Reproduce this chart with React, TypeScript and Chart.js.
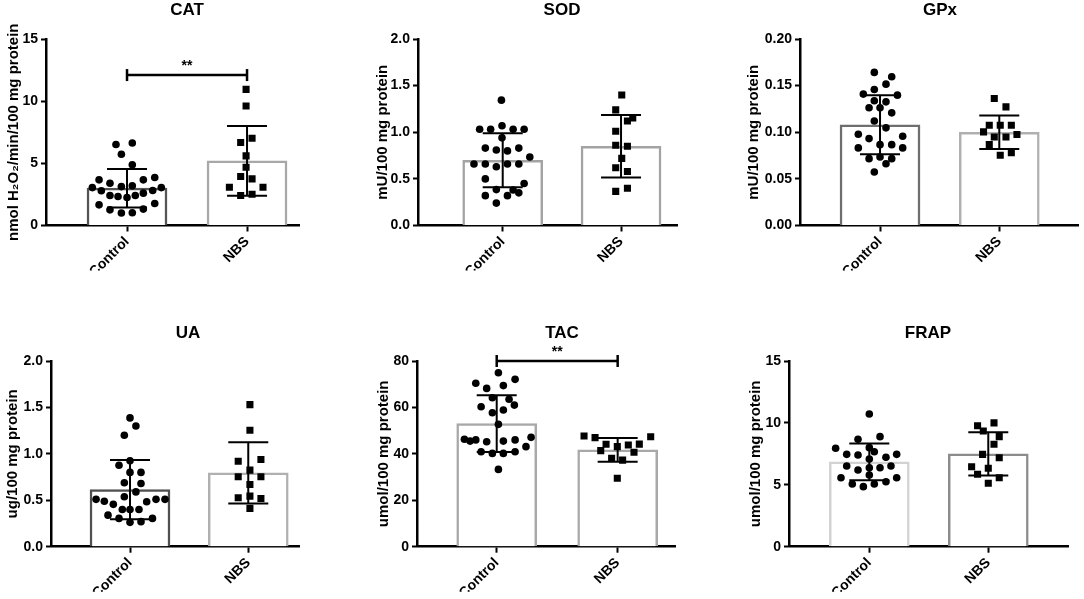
import { useEffect, useRef } from "react"
import { Chart, registerables, type ChartConfiguration, type Plugin } from "chart.js"

Chart.register(...registerables)

Chart.defaults.font.family = "'Liberation Sans', Arial, sans-serif"
Chart.defaults.font.weight = "bold"
Chart.defaults.color = "#000"

const groups = ["Control", "NBS"]

// points are [jitter in group widths, value]
const catControl: [number, number][] = [
  [-0.092, 6.51], [0.044, 6.64], [-0.047, 5.73], [0.044, 4.88],
  [-0.233, 3.67], [-0.142, 3.4], [-0.047, 3.13], [0.044, 3.19], [0.136, 3.67], [0.231, 3.86],
  [-0.289, 3.05], [-0.214, 2.79], [0.286, 3.05], [0.214, 2.81],
  [-0.142, 2.41], [-0.075, 2.33], [0, 2.25], [0.069, 2.41], [0.136, 2.6],
  [-0.233, 1.66], [0.231, 1.77],
  [-0.142, 1.26], [-0.047, 1.0], [0.044, 1.02], [0.136, 1.32],
]
const catNbs: [number, number][] = [
  [-0.008, 10.95], [-0.008, 9.61], [-0.053, 6.67], [0.042, 7.02], [-0.008, 5.6], [-0.008, 4.69],
  [-0.053, 3.94], [0.042, 3.75], [-0.147, 3.08], [0.133, 3.08], [-0.053, 2.41], [0.042, 2.52],
]
const catMean = [3.0, 5.2]
const catSd = [1.55, 2.8]
const catTicks = ["0", "5", "10", "15"]

const sodControl: [number, number][] = [
  [-0.011, 1.344],
  [-0.195, 1.032], [-0.102, 1.032], [-0.006, 1.07], [0.088, 1.032], [0.181, 1.032],
  [-0.006, 0.94],
  [-0.147, 0.83], [-0.054, 0.81], [0.04, 0.8], [0.136, 0.83],
  [0.229, 0.735],
  [-0.243, 0.66], [-0.147, 0.66], [-0.054, 0.63], [0.04, 0.66], [0.136, 0.66],
  [-0.147, 0.5], [0.181, 0.45], [-0.054, 0.385], [0.088, 0.38], [0.136, 0.35],
  [-0.147, 0.32], [0.04, 0.32], [-0.054, 0.24],
]
const sodNbs: [number, number][] = [
  [0.006, 1.4], [-0.045, 1.24], [0.099, 1.154], [0.054, 1.12], [-0.045, 1.01], [-0.045, 0.86],
  [0.054, 0.85], [0.006, 0.72], [-0.045, 0.62], [0.054, 0.58], [-0.045, 0.366], [0.054, 0.4],
]
const sodMean = [0.7, 0.85]
const sodSd = [0.29, 0.335]
const sodTicks = ["0.0", "0.5", "1.0", "1.5", "2.0"]

const gpxControl: [number, number][] = [
  [-0.048, 0.1642], [0.098, 0.1595], [0.05, 0.1516], [-0.048, 0.1459], [-0.14, 0.1409],
  [0.146, 0.1398], [-0.048, 0.1337], [0.05, 0.1326], [-0.092, 0.1262], [0, 0.1262],
  [0.098, 0.1208], [-0.048, 0.112], [0.05, 0.1047], [-0.182, 0.0978], [0.19, 0.0957],
  [-0.092, 0.0932], [0, 0.0867], [0.098, 0.0867], [-0.182, 0.0832], [0.19, 0.0832],
  [-0.092, 0.0717], [0, 0.0735], [0.098, 0.0717], [0.05, 0.0663], [-0.048, 0.0573],
]
const gpxNbs: [number, number][] = [
  [-0.042, 0.1362], [0.056, 0.1272], [-0.084, 0.1075], [0.008, 0.1075], [0.101, 0.1075],
  [-0.132, 0.1004], [0.148, 0.0975], [-0.042, 0.095], [0.056, 0.095], [-0.084, 0.0867],
  [0.008, 0.0753], [0.101, 0.0781],
]
const gpxMean = [0.108, 0.1]
const gpxSd = [0.0316, 0.018]
const gpxTicks = ["0.00", "0.05", "0.10", "0.15", "0.20"]

const uaControl: [number, number][] = [
  [0, 1.387], [0.05, 1.3], [-0.048, 1.2], [0, 0.925], [-0.093, 0.878], [0, 0.8], [0.093, 0.8],
  [-0.048, 0.688], [0.093, 0.68], [0.05, 0.59], [-0.048, 0.538], [-0.287, 0.51], [-0.217, 0.49],
  [0.141, 0.484], [0.22, 0.51], [0.296, 0.51], [-0.141, 0.456], [-0.065, 0.4], [0, 0.4],
  [0.076, 0.4], [-0.186, 0.34], [-0.093, 0.305], [0, 0.262], [0.093, 0.27], [0.19, 0.305],
]
const uaNbs: [number, number][] = [
  [0.014, 1.53], [0.014, 1.255], [-0.085, 0.92], [0.107, 0.94], [0.014, 0.825], [-0.085, 0.753],
  [0.107, 0.753], [0.014, 0.67], [-0.085, 0.527], [0.014, 0.545], [0.107, 0.52], [0.014, 0.413],
]
const uaMean = [0.615, 0.795]
const uaSd = [0.32, 0.33]
const uaTicks = ["0.0", "0.5", "1.0", "1.5", "2.0"]

const tacControl: [number, number][] = [
  [0.014, 74.96], [-0.173, 70.4], [0.152, 72.1], [-0.083, 68.2], [0.055, 69.4], [-0.036, 64.2],
  [0.102, 63.5], [-0.129, 60.3], [0.146, 61.0], [0.055, 58.9], [-0.036, 57.7], [0.014, 52.7],
  [-0.267, 46.3], [-0.22, 45.5], [-0.173, 46.0], [-0.083, 45.2], [0.055, 45.5], [0.152, 46.0],
  [0.284, 47.1], [0.242, 43.1], [-0.129, 40.9], [-0.036, 40.2], [0.055, 40.2], [0.152, 40.9],
  [0.014, 33.3],
]
const tacNbs: [number, number][] = [
  [-0.278, 47.7], [-0.187, 47.0], [0.273, 47.4], [-0.096, 44.1], [-0.003, 43.1], [0.088, 43.8],
  [0.179, 44.2], [-0.14, 41.4], [0.135, 40.7], [-0.05, 38.1], [0.041, 37.3], [-0.003, 29.5],
]
const tacMean = [53, 41.7]
const tacSd = [12.2, 5.1]
const tacTicks = ["0", "20", "40", "60", "80"]

const frapControl: [number, number][] = [
  [0, 10.72], [-0.095, 8.67], [0.09, 8.89], [0, 8.0], [-0.283, 7.95], [-0.19, 7.46],
  [-0.095, 7.41], [0.042, 7.67], [0.14, 7.22], [0.23, 7.46], [0, 7.08], [-0.19, 6.52],
  [-0.095, 6.2], [0, 6.38], [0.09, 6.38], [0.182, 6.52], [0, 5.79], [-0.238, 5.57],
  [0.23, 5.57], [-0.143, 5.06], [-0.05, 4.85], [0.042, 5.06], [0.14, 5.25],
]
const frapNbs: [number, number][] = [
  [-0.09, 9.77], [0.048, 10.0], [-0.042, 9.35], [0.092, 8.89], [0.048, 8.27], [-0.048, 7.46],
  [0.092, 7.19], [-0.14, 6.46], [0, 6.33], [-0.09, 5.85], [0.092, 5.57], [0, 5.12],
]
const frapMean = [6.85, 7.5]
const frapSd = [1.48, 1.75]
const frapTicks = ["0", "5", "10", "15"]

// significance bracket levels ("**")
const catSig = 12.1
const tacSig = 80

interface Panel {
  title: string
  yLabel: string
  ticks: string[]
  control: [number, number][]
  nbs: [number, number][]
  mean: number[]
  sd: number[]
  sig?: number
  borders: string[]
  left: number
  top: number
  width: number
  height: number
  axisX: number
  chartRight: number
  chartTop: number
  chartBottom: number
  xMin: number
  xMax: number
  yTitleX: number
  titleX: number
  titleY: number
}

const panels: Panel[] = [
  {
    title: "CAT", yLabel: "nmol H₂O₂/min/100 mg protein", ticks: catTicks,
    control: catControl, nbs: catNbs, mean: catMean, sd: catSd, sig: catSig,
    borders: ["#555555", "#a8a8a8"],
    left: 0, top: 0, width: 360, height: 300, axisX: 46, chartRight: 299, chartTop: 39, chartBottom: 225.5,
    xMin: 0.325, xMax: 2.433, yTitleX: 13.5, titleX: 187, titleY: 10,
  },
  {
    title: "SOD", yLabel: "mU/100 mg protein", ticks: sodTicks,
    control: sodControl, nbs: sodNbs, mean: sodMean, sd: sodSd,
    borders: ["#a3a3a3", "#a3a3a3"],
    left: 360, top: 0, width: 365, height: 300, axisX: 418, chartRight: 677, chartTop: 39, chartBottom: 225.5,
    xMin: 0.284, xMax: 2.473, yTitleX: 383, titleX: 562, titleY: 10,
  },
  {
    title: "GPx", yLabel: "mU/100 mg protein", ticks: gpxTicks,
    control: gpxControl, nbs: gpxNbs, mean: gpxMean, sd: gpxSd,
    borders: ["#6e6e6e", "#b0b0b0"],
    left: 725, top: 0, width: 359, height: 300, axisX: 800, chartRight: 1078, chartTop: 39, chartBottom: 225.5,
    xMin: 0.329, xMax: 2.66, yTitleX: 754, titleX: 940, titleY: 10,
  },
  {
    title: "UA", yLabel: "ug/100 mg protein", ticks: uaTicks,
    control: uaControl, nbs: uaNbs, mean: uaMean, sd: uaSd,
    borders: ["#505050", "#b0b0b0"],
    left: 0, top: 300, width: 360, height: 299, axisX: 51, chartRight: 299, chartTop: 361, chartBottom: 546.7,
    xMin: 0.332, xMax: 2.429, yTitleX: 13, titleX: 188, titleY: 333,
  },
  {
    title: "TAC", yLabel: "umol/100 mg protein", ticks: tacTicks,
    control: tacControl, nbs: tacNbs, mean: tacMean, sd: tacSd, sig: tacSig,
    borders: ["#a8a8a8", "#a8a8a8"],
    left: 360, top: 300, width: 365, height: 299, axisX: 417, chartRight: 675, chartTop: 361, chartBottom: 546.7,
    xMin: 0.341, xMax: 2.474, yTitleX: 384, titleX: 562, titleY: 333,
  },
  {
    title: "FRAP", yLabel: "umol/100 mg protein", ticks: frapTicks,
    control: frapControl, nbs: frapNbs, mean: frapMean, sd: frapSd,
    borders: ["#d2d2d2", "#8c8c8c"],
    left: 725, top: 300, width: 359, height: 299, axisX: 789, chartRight: 1068, chartTop: 361, chartBottom: 546.7,
    xMin: 0.325, xMax: 2.67, yTitleX: 756, titleX: 928, titleY: 333,
  },
]

const X_AXIS_HEIGHT = 45
const CAP_RADIUS = 20

// Panel title and "**" above the bracket
const panelText: Plugin = {
  id: "panelText",
  afterDraw(chart, _args, opts: any) {
    const { ctx } = chart
    ctx.save()
    ctx.fillStyle = "#000"
    ctx.textAlign = "center"
    ctx.textBaseline = "middle"
    ctx.font = "bold 17px 'Liberation Sans', Arial, sans-serif"
    ctx.fillText(opts.text, opts.x, opts.y)
    if (opts.sig != null) {
      const x = chart.scales.x.getPixelForValue(1.5)
      const y = chart.scales.y.getPixelForValue(opts.sig)
      ctx.font = "bold 14px 'Liberation Sans', Arial, sans-serif"
      ctx.textBaseline = "alphabetic"
      ctx.fillText("**", x, y - 5)
    }
    ctx.restore()
  },
}

function PanelChart({ p }: { p: Panel }) {
  const chartRef = useRef<HTMLCanvasElement>(null)

  useEffect(() => {
    if (!chartRef.current) return
    const tickVals = p.ticks.map(Number)
    const yWidth = p.axisX - p.left
    const padTop = p.chartTop - p.top
    const padRight = p.left + p.width - p.chartRight
    const padBottom = p.height - (p.chartBottom - p.top) - X_AXIS_HEIGHT
    const yTitlePad = p.yTitleX - p.left - 9

    const datasets: any[] = [
      {
        type: "bar",
        data: p.mean.map((m, i) => ({ x: i + 1, y: m })),
        backgroundColor: "#ffffff",
        borderColor: p.borders,
        borderWidth: 2.5,
        barThickness: 80,
        order: 4,
      },
      {
        type: "scatter",
        data: p.control.map(([dx, y]) => ({ x: 1 + dx, y })),
        pointStyle: "circle",
        pointRadius: 3.8,
        backgroundColor: "#000",
        borderWidth: 0,
        order: 3,
      },
      {
        type: "scatter",
        data: p.nbs.map(([dx, y]) => ({ x: 2 + dx, y })),
        pointStyle: "rect",
        pointRadius: 5,
        backgroundColor: "#000",
        borderWidth: 0,
        order: 3,
      },
      {
        type: "line",
        data: [
          { x: 1, y: p.mean[0] - p.sd[0] },
          { x: 1, y: p.mean[0] + p.sd[0] },
          { x: 1.5, y: null },
          { x: 2, y: p.mean[1] - p.sd[1] },
          { x: 2, y: p.mean[1] + p.sd[1] },
        ],
        borderColor: "#000",
        borderWidth: 2,
        pointStyle: "line",
        pointRadius: CAP_RADIUS,
        pointBorderWidth: 2,
        pointBorderColor: "#000",
        spanGaps: false,
        clip: false,
        order: 2,
      },
    ]
    if (p.sig != null) {
      datasets.push({
        type: "line",
        data: [
          { x: 1, y: p.sig },
          { x: 2, y: p.sig },
        ],
        borderColor: "#000",
        borderWidth: 2.5,
        pointStyle: "line",
        pointRotation: 90,
        pointRadius: 6,
        pointBorderWidth: 2.5,
        pointBorderColor: "#000",
        clip: false,
        order: 1,
      })
    }

    const config: ChartConfiguration = {
      type: "scatter",
      data: { datasets },
      options: {
        responsive: false,
        animation: false,
        events: [],
        layout: {
          autoPadding: false,
          padding: { left: 0, top: padTop, right: padRight, bottom: padBottom },
        },
        plugins: {
          legend: { display: false },
          tooltip: { enabled: false },
          panelText: { text: p.title, x: p.titleX - p.left, y: p.titleY - p.top, sig: p.sig },
        } as any,
        scales: {
          x: {
            type: "linear",
            min: p.xMin,
            max: p.xMax,
            offset: false,
            afterBuildTicks: (s: any) => {
              s.ticks = [{ value: 1 }, { value: 2 }]
            },
            afterFit: (s: any) => {
              s.height = X_AXIS_HEIGHT
              s.paddingLeft = 0
              s.paddingRight = 0
            },
            ticks: {
              callback: (v: any) => groups[Math.round(Number(v)) - 1] ?? "",
              minRotation: 45,
              maxRotation: 45,
              autoSkip: false,
              padding: 2,
              color: "#000",
              font: { size: 14, weight: "bold" },
            },
            grid: {
              offset: false,
              drawOnChartArea: false,
              drawTicks: true,
              tickLength: 6,
              tickWidth: 2,
              tickColor: "#000",
            },
            border: { display: true, color: "#000", width: 2.5 },
          },
          y: {
            type: "linear",
            min: 0,
            max: tickVals[tickVals.length - 1],
            afterBuildTicks: (s: any) => {
              s.ticks = tickVals.map((v) => ({ value: v }))
            },
            afterFit: (s: any) => {
              s.width = yWidth
            },
            ticks: {
              callback: (_v: any, i: number) => p.ticks[i],
              padding: 3,
              color: "#000",
              font: { size: 14, weight: "bold" },
            },
            grid: { drawOnChartArea: false, drawTicks: true, tickLength: 5, tickWidth: 2, tickColor: "#000" },
            border: { display: true, color: "#000", width: 2.5 },
            title: {
              display: true,
              text: p.yLabel,
              color: "#000",
              font: { size: 15, weight: "bold" },
              padding: { top: yTitlePad, bottom: 0 },
            },
          },
        },
      },
      plugins: [panelText],
    }

    const chart = new Chart(chartRef.current, config)
    return () => {
      chart.destroy()
    }
  }, [p])

  return (
    <canvas
      ref={chartRef}
      width={p.width}
      height={p.height}
      style={{ position: "absolute", left: p.left, top: p.top, width: p.width, height: p.height }}
    />
  )
}

export default function App() {
  return (
    <div style={{ position: "absolute", left: 0, top: 0, width: 1084, height: 599, background: "#fff" }}>
      {panels.map((p) => (
        <PanelChart key={p.title} p={p} />
      ))}
    </div>
  )
}
